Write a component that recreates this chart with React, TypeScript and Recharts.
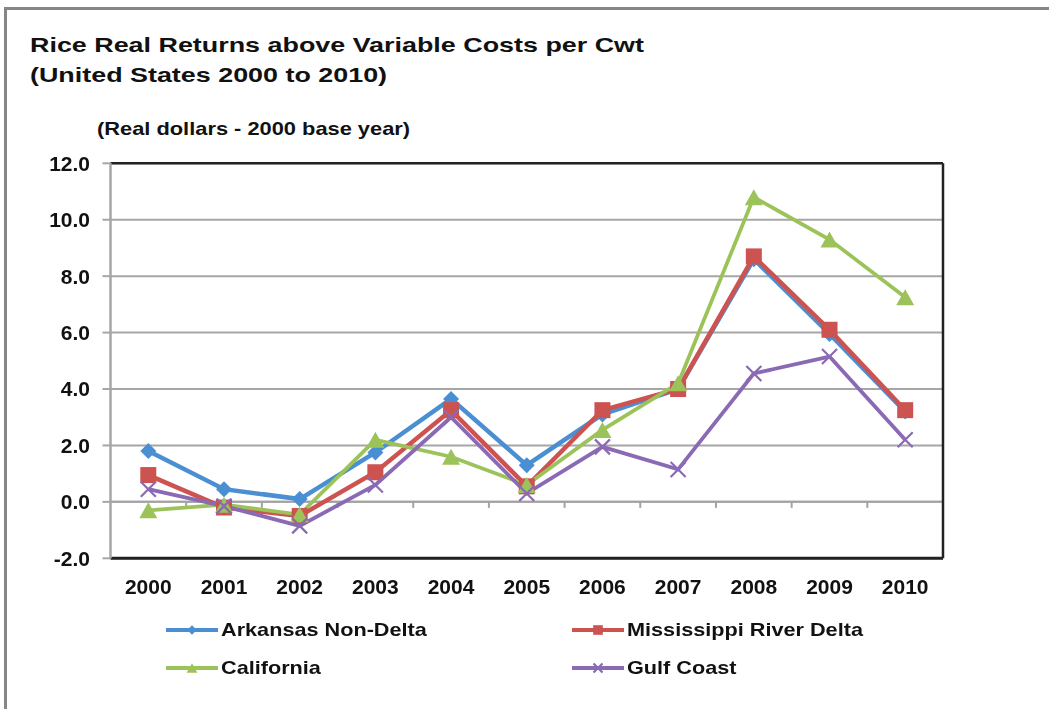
import React from 'react'
import { LineChart, Line, XAxis, YAxis, CartesianGrid, ReferenceLine } from 'recharts'

const years = ['2000', '2001', '2002', '2003', '2004', '2005', '2006', '2007', '2008', '2009', '2010']
const arkansasNonDelta = [1.8, 0.45, 0.1, 1.75, 3.65, 1.3, 3.1, 4.0, 8.6, 5.95, 3.2]
const mississippiRiverDelta = [0.95, -0.2, -0.5, 1.05, 3.25, 0.55, 3.25, 4.0, 8.7, 6.1, 3.25]
const california = [-0.3, -0.1, -0.45, 2.2, 1.6, 0.6, 2.55, 4.2, 10.8, 9.3, 7.25]
const gulfCoast = [0.45, -0.15, -0.85, 0.6, 3.0, 0.3, 1.95, 1.15, 4.55, 5.15, 2.2]
const yTicks = [-2, 0, 2, 4, 6, 8, 10, 12]

const data = years.map((year, i) => ({
    year,
    arkansas: arkansasNonDelta[i],
    mississippi: mississippiRiverDelta[i],
    california: california[i],
    gulf: gulfCoast[i],
}))

const FONT = '"Liberation Sans", Arial, sans-serif'
const BLUE = '#4a8fd2'
const RED = '#cd5350'
const GREEN = '#9cc35a'
const PURPLE = '#8a6ab4'

type Marker = 'diamond' | 'square' | 'triangle' | 'cross'

function MarkerShape({ kind, cx, cy, color, scale = 1 }: { kind: Marker; cx: number; cy: number; color: string; scale?: number }) {
    if (kind === 'diamond') {
        const r = 8 * scale
        return <path d={`M${cx},${cy - r}L${cx + r},${cy}L${cx},${cy + r}L${cx - r},${cy}Z`} fill={color} />
    }
    if (kind === 'square') {
        const r = 8 * scale
        return <rect x={cx - r} y={cy - r} width={r * 2} height={r * 2} fill={color} />
    }
    if (kind === 'triangle') {
        const w = 9 * scale
        const h = 8 * scale
        return <path d={`M${cx},${cy - h}L${cx + w},${cy + h}L${cx - w},${cy + h}Z`} fill={color} />
    }
    const r = 7.5 * scale
    return (
        <path
            d={`M${cx - r},${cy - r}L${cx + r},${cy + r}M${cx - r},${cy + r}L${cx + r},${cy - r}`}
            stroke={color}
            strokeWidth={2.2}
            fill="none"
        />
    )
}

const dotFor = (kind: Marker, color: string) => (props: any) => {
    if (props.cx == null || props.cy == null) return <g key={props.index} />
    return (
        <g key={props.index}>
            <MarkerShape kind={kind} cx={props.cx} cy={props.cy} color={color} />
        </g>
    )
}

const series = [
    { key: 'arkansas', name: 'Arkansas Non-Delta', color: BLUE, marker: 'diamond' as Marker, width: 4.5 },
    { key: 'mississippi', name: 'Mississippi River Delta', color: RED, marker: 'square' as Marker, width: 4.5 },
    { key: 'california', name: 'California', color: GREEN, marker: 'triangle' as Marker, width: 3.8 },
    { key: 'gulf', name: 'Gulf Coast', color: PURPLE, marker: 'cross' as Marker, width: 3.8 },
]

// zero line with the category tick marks hanging below it
const ZeroLine = (props: any) => {
    const { x1, y1, x2 } = props
    const step = (x2 - x1) / years.length
    const ticks = []
    for (let k = 1; k < years.length; k++) {
        const x = x1 + step * k
        ticks.push(<line key={k} x1={x} y1={y1} x2={x} y2={y1 + 6} stroke="#a3a3a3" strokeWidth={2} />)
    }
    return (
        <g>
            <line x1={x1} y1={y1} x2={x2} y2={y1} stroke="#a3a3a3" strokeWidth={2} />
            {ticks}
        </g>
    )
}

function LegendItem({ s, left, top }: { s: (typeof series)[number]; left: number; top: number }) {
    return (
        <div style={{ position: 'absolute', left, top, height: 24, display: 'flex', alignItems: 'center' }}>
            <svg width={52} height={24}>
                <line x1={0} y1={12} x2={52} y2={12} stroke={s.color} strokeWidth={4} strokeLinecap="round" />
                <MarkerShape kind={s.marker} cx={26} cy={12} color={s.color} scale={0.6} />
            </svg>
            <span
                style={{
                    marginLeft: 3,
                    fontSize: 19,
                    fontWeight: 'bold',
                    color: '#111',
                    display: 'inline-block',
                    transform: 'scaleX(1.14)',
                    transformOrigin: 'left center',
                    whiteSpace: 'nowrap',
                }}
            >
                {s.name}
            </span>
        </div>
    )
}

export default function App() {
    return (
        <div style={{ position: 'relative', width: 1041, height: 701, fontFamily: FONT, background: '#fff' }}>
            <div style={{ position: 'fixed', left: 4, top: 7, width: 3, height: 720, background: '#868686' }} />
            <div style={{ position: 'fixed', left: 4, top: 7, width: 1060, height: 3, background: '#868686' }} />

            <div
                style={{
                    position: 'absolute',
                    left: 22,
                    top: 22.3,
                    fontSize: 21,
                    lineHeight: '30px',
                    fontWeight: 'bold',
                    color: '#111',
                    transform: 'scaleX(1.28)',
                    transformOrigin: 'left top',
                    whiteSpace: 'nowrap',
                }}
            >
                Rice Real Returns above Variable Costs per Cwt
                <br />
                (United States 2000 to 2010)
            </div>
            <div
                style={{
                    position: 'absolute',
                    left: 89,
                    top: 109,
                    fontSize: 18.5,
                    lineHeight: '24px',
                    fontWeight: 'bold',
                    color: '#111',
                    transform: 'scaleX(1.18)',
                    transformOrigin: 'left top',
                    whiteSpace: 'nowrap',
                }}
            >
                (Real dollars - 2000 base year)
            </div>

            <div style={{ position: 'absolute', left: 0, top: 0 }}>
                <LineChart width={1041} height={701} data={data} margin={{ top: 155.3, right: 0, bottom: 120.7, left: 0 }}>
                    <CartesianGrid horizontal vertical={false} stroke="#a6a6a6" strokeWidth={2} />
                    <XAxis
                        dataKey="year"
                        padding={{ left: 37.8, right: 37.8 }}
                        height={30}
                        tickLine={false}
                        tickSize={0}
                        tickMargin={21}
                        axisLine={{ stroke: '#222', strokeWidth: 3 }}
                        tick={{ fontSize: 21, fontWeight: 'bold', fill: '#111', fontFamily: FONT }}
                        interval={0}
                    />
                    <YAxis
                        width={102.5}
                        domain={[-2, 12]}
                        ticks={yTicks}
                        interval={0}
                        tickFormatter={(v: number) => v.toFixed(1)}
                        tickSize={8}
                        tickMargin={12.5}
                        tickLine={{ stroke: '#a6a6a6', strokeWidth: 2 }}
                        axisLine={{ stroke: '#a6a6a6', strokeWidth: 2.5 }}
                        tick={{ fontSize: 21, fontWeight: 'bold', fill: '#111', fontFamily: FONT }}
                    />
                    <YAxis
                        yAxisId="right"
                        orientation="right"
                        width={106}
                        domain={[-2, 12]}
                        tick={false}
                        tickLine={false}
                        axisLine={{ stroke: '#222', strokeWidth: 2.5 }}
                    />
                    <ReferenceLine y={12} stroke="#222" strokeWidth={2.5} />
                    <ReferenceLine y={0} shape={ZeroLine} />
                    {series.map((s) => (
                        <Line
                            key={s.key}
                            type="linear"
                            dataKey={s.key}
                            name={s.name}
                            stroke={s.color}
                            strokeWidth={s.width}
                            dot={dotFor(s.marker, s.color)}
                            activeDot={false}
                            isAnimationActive={false}
                        />
                    ))}
                </LineChart>
            </div>

            <LegendItem s={series[0]} left={158} top={610} />
            <LegendItem s={series[1]} left={564} top={610} />
            <LegendItem s={series[2]} left={158} top={648} />
            <LegendItem s={series[3]} left={564} top={648} />
        </div>
    )
}
